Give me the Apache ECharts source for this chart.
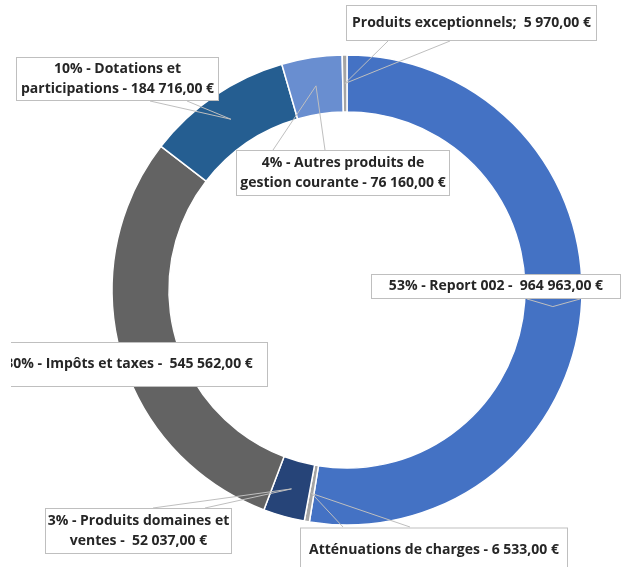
<!DOCTYPE html>
<html>
<head>
<meta charset="utf-8">
<script src="https://cdn.jsdelivr.net/npm/echarts@6/dist/echarts.min.js"></script>
<style>
  html, body { margin: 0; padding: 0; background: #fff; }
  #main { width: 627px; height: 567px; }
</style>
</head>
<body>
<div id="main"></div>
<script>
// données (sens horaire depuis le haut)
const categories = ['Report 002', 'Atténuations de charges', 'Produits domaines et ventes', 'Impôts et taxes',
  'Dotations et participations', 'Autres produits de gestion courante', 'Produits exceptionnels'];
const values = [964963, 6533, 52037, 545562, 184716, 76160, 5970];
const colors = ['#4472C4', '#A5A5A5', '#264478', '#636363', '#255E91', '#698ED0', '#A5A5A5'];

// mise en page des étiquettes : centre et taille de la boîte, base de la flèche (x1, x2, y)
const boxes = [
  { cx: 496, cy: 286.5, w: 250, h: 25, bx: [527, 580], by: 299, pct: true, sep: '  ', br: null },
  { cx: 434, cy: 550, w: 268, h: 45, bx: [343, 410], by: 527, pct: false, sep: ' ', br: null },
  { cx: 138.5, cy: 531, w: 187, h: 46, bx: [153, 205], by: 508, pct: true, sep: '  ', br: 'domaines et' },
  { cx: 129, cy: 364.5, w: 278, h: 45, bx: null, by: null, pct: true, sep: '  ', br: null },
  { cx: 117.5, cy: 79, w: 203, h: 44, bx: [150, 187], by: 101, pct: true, sep: ' ', br: 'Dotations et' },
  { cx: 343, cy: 173, w: 214, h: 46, bx: [273, 325], by: 150, pct: true, sep: ' ', br: 'produits de' },
  { cx: 471.5, cy: 23, w: 251, h: 36, bx: [388, 450], by: 41, pct: false, sep: '  ', br: null, semi: true }
];

const center = [347, 290];
const rIn = 178, rOut = 235;
const total = values.reduce((a, b) => a + b, 0);

function fmt(v) {
  return String(v).replace(/\B(?=(\d{3})+(?!\d))/g, ' ') + ',00 €';
}

// pointe de la flèche : milieu angulaire de la part, au milieu de l'anneau
function tip(i) {
  let before = 0;
  for (let k = 0; k < i; k++) before += values[k];
  const frac = (before + values[i] / 2) / total;
  const a = (90 - frac * 360) * Math.PI / 180;
  const r = (rIn + rOut) / 2;
  return [center[0] + r * Math.cos(a), center[1] - r * Math.sin(a)];
}

const chart = echarts.init(document.getElementById('main'));

const lineH = 20;
chart.setOption({
  backgroundColor: '#fff',
  animation: false,
  graphic: [
    // bord gauche de la zone du graphique (étiquette coupée)
    { type: 'rect', z: 100, shape: { x: 0, y: 340, width: 11, height: 50 }, style: { fill: '#fff' } }
  ],
  series: [{
    // anneau
    type: 'pie',
    center: center,
    radius: [rIn, rOut],
    startAngle: 90,
    z: 2,
    itemStyle: { borderColor: '#fff', borderWidth: 1.5 },
    label: { show: false },
    labelLine: { show: false },
    data: categories.map(function (c, i) {
      return { name: c, value: values[i], itemStyle: { color: colors[i] } };
    })
  }, {
    // étiquettes au-dessus de l'anneau
    type: 'pie',
    center: center,
    radius: [rIn, rOut],
    startAngle: 90,
    z: 5,
    silent: true,
    avoidLabelOverlap: false,
    itemStyle: { color: 'rgba(0,0,0,0)', borderWidth: 0 },
    label: {
      show: true,
      position: 'outside',
      color: '#262626',
      fontFamily: 'Open Sans',
      fontWeight: 'bold',
      fontSize: 14,
      lineHeight: lineH,
      backgroundColor: '#fff',
      borderColor: '#BFBFBF',
      borderWidth: 1,
      formatter: function (p) {
        const b = boxes[p.dataIndex];
        let name = p.name;
        if (b.br) name = name.replace(b.br + ' ', b.br + '\n');
        if (b.semi) return name + ';' + b.sep + fmt(p.value);
        const head = b.pct ? Math.round(p.percent) + '% - ' : '';
        return head + name + ' -' + b.sep + fmt(p.value);
      }
    },
    labelLine: {
      show: true,
      smooth: false,
      lineStyle: { color: '#BFBFBF', width: 1 }
    },
    labelLayout: function (p) {
      const b = boxes[p.dataIndex];
      const out = { x: b.cx, y: b.cy, align: 'center', verticalAlign: 'middle' };
      if (b.bx) {
        out.labelLinePoints = [[b.bx[0], b.by], tip(p.dataIndex), [b.bx[1], b.by]];
      }
      return out;
    },
    data: categories.map(function (c, i) {
      const b = boxes[i];
      const lines = b.br ? 2 : 1;
      const padV = Math.max(0, (b.h - 2 - lines * lineH) / 2);
      return {
        name: c,
        value: values[i],
        label: { width: b.w - 2, padding: [padV, 0, padV, 0], align: 'center' },
        labelLine: { show: !!b.bx }
      };
    })
  }]
});
</script>
</body>
</html>
